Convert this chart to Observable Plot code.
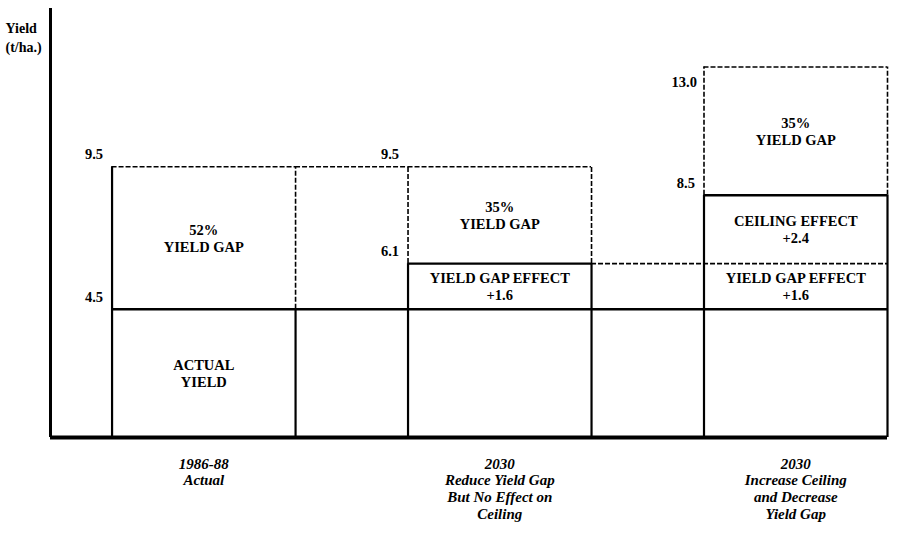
<!DOCTYPE html>
<html><head><meta charset="utf-8">
<script src="https://cdn.jsdelivr.net/npm/d3@7"></script>
<script src="https://cdn.jsdelivr.net/npm/@observablehq/plot@0.6"></script>
<style>body{margin:0;background:#fff} #chart svg{display:block}</style>
</head><body><div id="chart"></div>
<script>
// ---- data ----
const scenarios = ["1986-88\nActual", "2030\nReduce Yield Gap\nBut No Effect on\nCeiling", "2030\nIncrease Ceiling\nand Decrease\nYield Gap"];
const actualYield = [4.5, 4.5, 4.5];
const yieldGapEffect = [0, 1.6, 1.6];
const ceilingEffect = [0, 0, 2.4];
const yieldCeiling = [9.5, 9.5, 13.0];
const yieldGapPct = [52, 35, 35];

// ---- layout helpers (bar i spans [i, i + barFrac]) ----
const barFrac = 0.62;
const x0 = i => i, x1 = i => i + barFrac, xm = i => i + barFrac / 2;
const xDomain = [-0.208, 2 + barFrac];
const yDomain = [0, 15.05];

const bars = scenarios.map((s, i) => {
  const a = actualYield[i], g = a + yieldGapEffect[i], c = g + ceilingEffect[i], top = yieldCeiling[i];
  return {i, s, a, g, c, top};
});
const n = bars.length;

// horizontal lines
const hSolid = [{y: bars[0].a, x1: x0(0), x2: x1(n - 1)}];
bars.forEach(b => { if (b.c > b.a) hSolid.push({y: b.c, x1: x0(b.i), x2: x1(b.i)}); });
const hDash = [];
bars.forEach(b => hDash.push({y: b.top, x1: x0(b.i), x2: x1(b.i)}));
for (let i = 0; i < n - 1; i++) {
  if (bars[i].top === bars[i + 1].top) hDash.push({y: bars[i].top, x1: x1(i), x2: x0(i + 1)});
  if (bars[i].c === bars[i + 1].g && bars[i + 1].c > bars[i + 1].g) hDash.push({y: bars[i].c, x1: x1(i), x2: x1(i + 1)});
}
// vertical edges
const vSolid = [], vDash = [];
bars.forEach(b => {
  [x0(b.i), x1(b.i)].forEach((x, k) => {
    const full = b.i === 0 && k === 0;
    vSolid.push({x, y1: 0, y2: full ? b.top : b.c});
    if (!full) vDash.push({x, y1: b.c, y2: b.top});
  });
});

// labels inside boxes
const boxLabels = [];
bars.forEach(b => {
  boxLabels.push({x: xm(b.i), y: (b.c + b.top) / 2, text: `${yieldGapPct[b.i]}%\nYIELD GAP`});
  if (b.i === 0) boxLabels.push({x: xm(b.i), y: b.a / 2, text: "ACTUAL\nYIELD"});
  if (b.c > b.g) boxLabels.push({x: xm(b.i), y: (b.g + b.c) / 2, text: `CEILING EFFECT\n+${ceilingEffect[b.i].toFixed(1)}`});
  if (b.g > b.a) boxLabels.push({x: xm(b.i), y: (b.a + b.g) / 2, text: `YIELD GAP EFFECT\n+${yieldGapEffect[b.i].toFixed(1)}`});
});
const maxTop = d3.max(bars, b => b.top);
const valAbove = [], valBelow = [];
bars.forEach(b => {
  (b.top === maxTop ? valBelow : valAbove).push({x: x0(b.i), y: b.top, text: b.top.toFixed(1)});
  valAbove.push({x: x0(b.i), y: b.c, text: b.c.toFixed(1)});
});
const catLabels = bars.map(b => ({x: xm(b.i), y: 0, text: b.s}));

const font = "'Liberation Serif', 'Times New Roman', serif";
const chart = Plot.plot({
  width: 900, height: 534,
  marginLeft: 50, marginRight: 13, marginTop: 8, marginBottom: 97,
  x: {domain: xDomain, axis: null},
  y: {domain: yDomain, axis: null},
  style: {fontFamily: font, background: "#fff"},
  marks: [
    Plot.ruleY(hDash, {y: "y", x1: "x1", x2: "x2", stroke: "#000", strokeWidth: 1.6, strokeDasharray: "5,2"}),
    Plot.ruleX(vDash, {x: "x", y1: "y1", y2: "y2", stroke: "#000", strokeWidth: 1.6, strokeDasharray: "5,2"}),
    Plot.ruleY(hSolid, {y: "y", x1: "x1", x2: "x2", stroke: "#000", strokeWidth: 2.4}),
    Plot.ruleX(vSolid, {x: "x", y1: "y1", y2: "y2", stroke: "#000", strokeWidth: 2.2}),
    Plot.ruleY([0], {stroke: "#000", strokeWidth: 4}),
    Plot.ruleX([xDomain[0]], {y1: yDomain[0], y2: yDomain[1], stroke: "#000", strokeWidth: 3}),
    Plot.text(boxLabels, {x: "x", y: "y", text: "text", fontSize: 14.5, fontWeight: "bold", lineHeight: 1.15, fill: "#000"}),
    Plot.text(valAbove, {x: "x", y: "y", text: "text", textAnchor: "end", dx: -9, dy: -12, fontSize: 14.5, fontWeight: "bold", fill: "#000"}),
    Plot.text(valBelow, {x: "x", y: "y", text: "text", textAnchor: "end", dx: -7, dy: 15, fontSize: 14.5, fontWeight: "bold", fill: "#000"}),
    Plot.text(catLabels, {x: "x", y: "y", text: "text", lineAnchor: "top", dy: 19, fontSize: 15, fontWeight: "bold", fontStyle: "italic", lineHeight: 1.13, fill: "#000"}),
    Plot.text(["Yield\n(t/ha.)"], {frameAnchor: "top-left", textAnchor: "start", lineAnchor: "top", dx: -45, dy: 11, fontSize: 14, fontWeight: "bold", lineHeight: 1.35, fill: "#000"})
  ]
});
document.getElementById("chart").appendChild(chart);
</script>
</body></html>
